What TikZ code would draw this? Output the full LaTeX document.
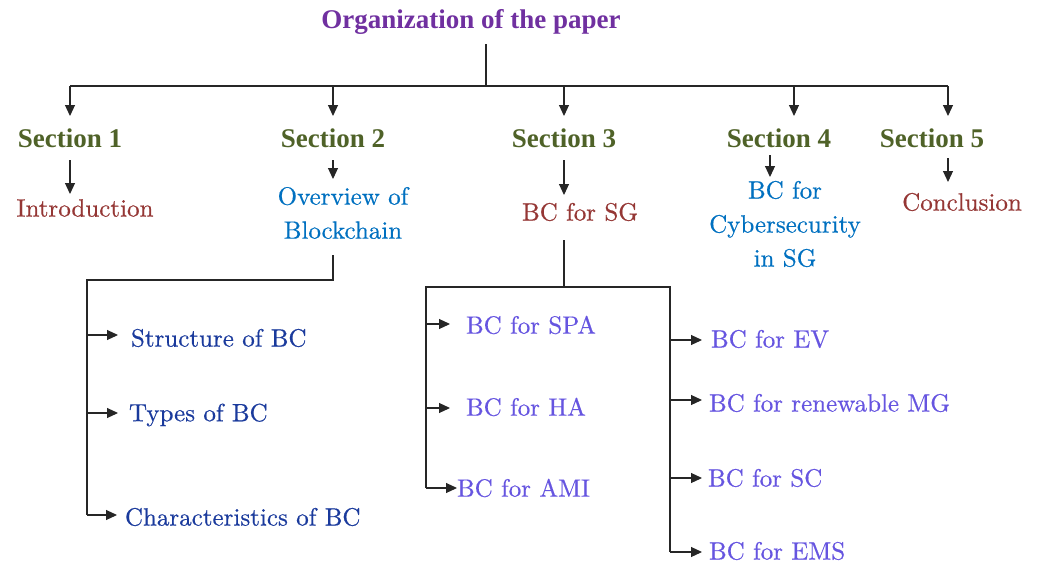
\documentclass[tikz,border=0pt]{standalone}
\usepackage{fontspec}
\newfontfamily\headserif{Liberation Serif}
\newfontfamily\bodyserif{lmroman10-regular}[Extension=.otf,FakeBold=0.5]
\usetikzlibrary{arrows.meta}
\definecolor{titlepurple}{HTML}{7030A0}
\definecolor{secgreen}{HTML}{4F6228}
\definecolor{darkred}{HTML}{953735}
\definecolor{midblue}{HTML}{0070C0}
\definecolor{navyblue}{HTML}{1A3A9C}
\definecolor{violetblue}{HTML}{6655E0}
\begin{document}
\begin{tikzpicture}[x=1pt,y=-1pt,
  every node/.style={inner sep=0pt,outer sep=0pt,font=\bodyserif\fontsize{25}{34}\selectfont},
  title/.style={font=\headserif\fontsize{27}{34}\selectfont\bfseries,text=titlepurple},
  sect/.style={font=\headserif\fontsize{27}{34}\selectfont\bfseries,text=secgreen},
  redtxt/.style={text=darkred},
  bluetxt/.style={text=midblue,align=center},
  navytxt/.style={text=navyblue,anchor=west},
  violettxt/.style={text=violetblue,anchor=west},
  conn/.style={draw=black!85,line width=1.1pt},
  arr/.style={conn,-{Triangle[length=11pt,width=10pt]}}]
\useasboundingbox (0,0) rectangle (1041,565);

% title and top bus
\node[title] (title) at (471,22) {Organization of the paper};
\coordinate (tbot) at (486,44);
\coordinate (bus) at (486,86);

% section headings
\node[sect] (s1) at (70,138) {Section 1};
\node[sect] (s2) at (333,138) {Section 2};
\node[sect] (s3) at (564,138) {Section 3};
\node[sect] (s4) at (779,138) {Section 4};
\node[sect] (s5) at (932,138) {Section 5};

\draw[conn] (tbot) -- (bus);
\draw[conn] (70,86) -- (948,86);
\draw[arr] (70,86) -- (70,116);
\draw[arr] (333,86) -- (333,116);
\draw[arr] (564,86) -- (564,116);
\draw[arr] (794,86) -- (794,116);
\draw[arr] (948,86) -- (948,116);

% section topics
\node[redtxt] (intro) at (85,208) {Introduction};
\node[bluetxt] (ovw) at (343,213) {Overview of\\Blockchain};
\node[redtxt] (bcsg) at (580,212) {BC for SG};
\node[bluetxt] (cyber) at (785,224) {BC for\\Cybersecurity\\in SG};
\node[redtxt] (concl) at (962,202) {Conclusion};

\draw[arr] (70,160) -- (70,194);
\draw[arr] (333,160) -- (333,179);
\draw[arr] (564,160) -- (564,195);
\draw[arr] (770,155) -- (770,177);
\draw[arr] (948,158) -- (948,182);

% blockchain overview branch
\node[navytxt] (struct) at (131,338) {Structure of BC};
\node[navytxt] (types) at (129,415) {Types of BC};
\node[navytxt] (chars) at (125,517) {Characteristics of BC};
\coordinate (ovwbot) at (333,255);
\coordinate (ovwl) at (87,280);
\draw[conn] (ovwbot) -- (333,280) -- (ovwl) -- (87,515);
\draw[arr] (87,335) -- (118,335);
\draw[arr] (87,413) -- (118,413);
\draw[arr] (87,515) -- (117,515);

% smart grid branch
\node[violettxt] (spa) at (466,325) {BC for SPA};
\node[violettxt] (ha) at (466,407) {BC for HA};
\node[violettxt] (ami) at (457,488) {BC for AMI};
\node[violettxt] (ev) at (711,339) {BC for EV};
\node[violettxt] (mg) at (709,403) {BC for renewable MG};
\node[violettxt] (sc) at (708,478) {BC for SC};
\node[violettxt] (ems) at (709,551) {BC for EMS};
\coordinate (sgbot) at (564,240);
\coordinate (sgbus) at (564,287);
\draw[conn] (sgbot) -- (sgbus);
\draw[conn] (426,488) -- (426,287) -- (670,287) -- (670,552);
\draw[arr] (426,324) -- (450,324);
\draw[arr] (426,408) -- (450,408);
\draw[arr] (426,488) -- (ami.west);
\draw[arr] (670,340) -- (702,340);
\draw[arr] (670,400) -- (702,400);
\draw[arr] (670,478) -- (702,478);
\draw[arr] (670,552) -- (702,552);
\end{tikzpicture}
\end{document}
